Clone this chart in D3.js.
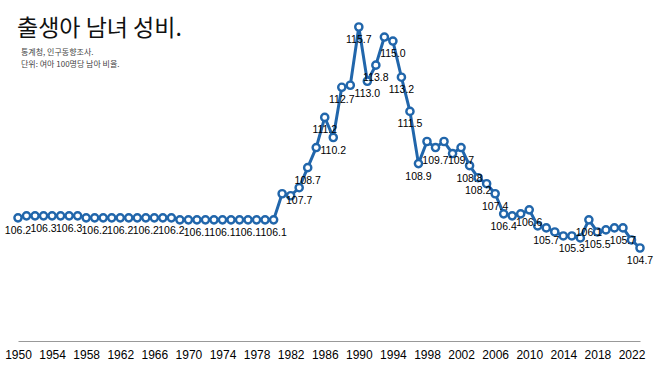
<!DOCTYPE html>
<html>
<head>
<meta charset="utf-8">
<script src="https://cdn.jsdelivr.net/npm/d3@7"></script>
<style>
  body { margin: 0; background: #fff; }
  text { font-family: "Liberation Sans", Arial, Helvetica, sans-serif; }
  .kr { font-family: "Noto Sans CJK KR", "Noto Sans", sans-serif; }
</style>
</head>
<body>
<div id="canvas"></div>
<script>
const years = d3.range(1950, 2024);
const ratio = [
	106.2, 106.3, 106.3, 106.3, 106.3, 106.3, 106.3, 106.3, 106.2, 106.2,
	106.2, 106.2, 106.2, 106.2, 106.2, 106.2, 106.2, 106.2, 106.2, 106.1,
	106.1, 106.1, 106.1, 106.1, 106.1, 106.1, 106.1, 106.1, 106.1, 106.1,
	106.1, 107.4, 107.3, 107.7, 108.7, 109.7, 111.2, 110.2, 112.7, 112.8,
	115.7, 113.0, 113.8, 115.2, 115.0, 113.2, 111.5, 108.9, 110.0, 109.7,
	110.0, 109.4, 109.7, 108.8, 108.2, 107.9, 107.4, 106.4, 106.3, 106.4,
	106.6, 105.8, 105.7, 105.5, 105.3, 105.3, 105.2, 106.1, 105.5, 105.6,
	105.7, 105.7, 105.1, 104.7
];
// years that carry a value label
const labelYears = [1950, 1953, 1956, 1959, 1962, 1965, 1968, 1971, 1974, 1977, 1980,
	1983, 1984, 1986, 1987, 1988, 1990, 1991, 1992, 1994, 1995, 1996, 1997,
	1999, 2002, 2003, 2004, 2006, 2007, 2010, 2012, 2015, 2017, 2018, 2021, 2023];
const tickYears = d3.range(1950, 2023, 4);

const title = "출생아 남녀 성비.";
const source = "통계청, 인구동향조사.";
const unit = "단위: 여아 100명당 남아 비율.";

const W = 658, H = 370;
const blue = "#2166ab";

const data = years.map((y, i) => ({year: y, value: ratio[i]}));

const svg = d3.select("#canvas").append("svg")
	.attr("width", W).attr("height", H);

const x = d3.scaleLinear().domain([1950, 2023]).range([18, 640]);
const y = d3.scaleLinear().domain([104.7, 115.7]).range([248, 27]);

// titles
svg.append("text").attr("class", "kr")
	.attr("x", 17).attr("y", 36)
	.style("font-size", "23px")
	.attr("fill", "#111")
	.text(title);

svg.append("text").attr("class", "kr")
	.attr("x", 21).attr("y", 55)
	.style("font-size", "8px").attr("fill", "#444")
	.text(source);

svg.append("text").attr("class", "kr")
	.attr("x", 21).attr("y", 67)
	.style("font-size", "8px").attr("fill", "#444")
	.text(unit);

// x axis
const xAxis = d3.axisBottom(x)
	.tickValues(tickYears)
	.tickFormat(d3.format("d"))
	.tickSize(0)
	.tickPadding(9);

const gx = svg.append("g")
	.attr("transform", "translate(0,341)")
	.call(xAxis);
gx.select(".domain").attr("stroke", "#999").attr("stroke-width", 1);
gx.selectAll("text")
	.style("font-size", "12px")
	.style("font-family", "'Liberation Sans', Arial, sans-serif")
	.attr("fill", "#000");

// line
const line = d3.line()
	.x(d => x(d.year))
	.y(d => y(d.value));

svg.append("path")
	.datum(data)
	.attr("fill", "none")
	.attr("stroke", blue)
	.attr("stroke-width", 3)
	.attr("stroke-linejoin", "round")
	.attr("d", line);

svg.selectAll("circle.pt")
	.data(data)
	.join("circle")
	.attr("class", "pt")
	.attr("cx", d => x(d.year))
	.attr("cy", d => y(d.value))
	.attr("r", 3.6)
	.attr("fill", "#fff")
	.attr("stroke", blue)
	.attr("stroke-width", 2.4);

// value labels
svg.selectAll("text.lbl")
	.data(data.filter(d => labelYears.includes(d.year)))
	.join("text")
	.attr("class", "lbl")
	.attr("x", d => x(d.year))
	.attr("y", d => y(d.value) + 16)
	.attr("text-anchor", "middle")
	.style("font-size", "10.5px")
	.attr("fill", "#000")
	.text(d => d.value.toFixed(1));
</script>
</body>
</html>
